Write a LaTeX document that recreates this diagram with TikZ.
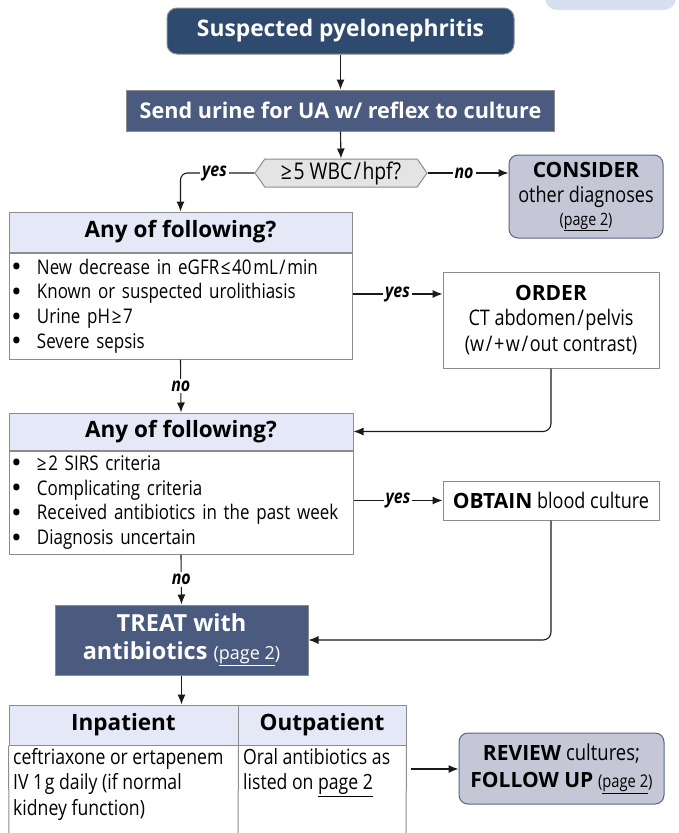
\documentclass[tikz,border=0pt]{standalone}
\usepackage{fontspec}
\setmainfont{Open Sans}
\newfontfamily\cond{Open Sans}[FakeStretch=0.84]
\usetikzlibrary{arrows.meta,shapes.symbols,calc}
\definecolor{navy}{HTML}{2E4A6F}
\definecolor{slate}{HTML}{4B5B80}
\definecolor{lav}{HTML}{C5C7D7}
\definecolor{lavborder}{HTML}{556685}
\definecolor{hdrfill}{HTML}{E5E8F6}
\definecolor{hexfill}{HTML}{E4E4E4}
\definecolor{bordergray}{HTML}{8C8C8C}
\definecolor{topshape}{HTML}{D7E0F0}
\definecolor{linecol}{HTML}{1A1A1A}
\newcommand{\hs}{\hspace{1.6pt}}
\newcommand{\bw}[1]{{\normalfont\bfseries\fontsize{21}{24}\selectfont #1}}
\tikzset{
  darkbox/.style={draw=bordergray, line width=1pt, text=white, align=center, inner sep=0pt},
  hdrbox/.style={draw=bordergray, line width=1pt, fill=hdrfill, inner sep=0pt, font=\bfseries\fontsize{22.5}{26}\selectfont},
  bodybox/.style={draw=bordergray, line width=1pt, fill=white, inner sep=0pt, align=left},
  plainbox/.style={draw=bordergray, line width=1pt, fill=white, inner sep=0pt, align=center, font=\cond\fontsize{21.5}{25.5}\selectfont},
  lavbox/.style={draw=lavborder, line width=1pt, fill=lav, rounded corners=9pt, inner sep=0pt, align=center, font=\cond\fontsize{21.5}{25}\selectfont},
  arr/.style={draw=linecol, line width=1.1pt, -{Latex[length=10pt,width=8pt]}},
  lbl/.style={fill=white, inner sep=2pt, font=\cond\bfseries\itshape\fontsize{19}{20}\selectfont},
  tcell/.style={anchor=north west, inner sep=0pt, align=left, font=\cond\fontsize{21}{25.5}\selectfont},
}
\newcommand{\bul}{\makebox[28pt][l]{\hspace{3.5pt}\raisebox{-0.5pt}{\normalfont\bfseries\fontsize{22}{0}\selectfont•}}}
\begin{document}
\begin{tikzpicture}[x=1pt,y=-1pt]
\useasboundingbox (0,0) rectangle (678,833);
\begin{scope}
\clip (0,0) rectangle (678,833);
\fill[topshape, rounded corners=12pt] (545,-30) rectangle (676,10);
\end{scope}

\node[darkbox, fill=navy, rounded corners=10pt, minimum width=347pt, minimum height=46pt,
  font=\bfseries\fontsize{22.8}{26}\selectfont] (top) at (340.5,31) {Suspected pyelonephritis};

\node[darkbox, fill=slate, minimum width=428pt, minimum height=41pt,
  font=\bfseries\fontsize{21.6}{25}\selectfont] (send) at (340.5,110.5) {Send urine for UA w/ reflex to culture};

\node[signal, signal to=west and east, signal pointer angle=110, draw=bordergray, line width=1pt,
  fill=hexfill, minimum width=172pt, minimum height=28pt, inner sep=0pt,
  font=\cond\fontsize{23}{26}\selectfont] (hex) at (341,173) {≥\hs5 WBC\hs/\hs hpf?};

\node[lavbox, minimum width=154pt, minimum height=83pt] (consider) at (586,196.5)
  {\bw{CONSIDER}\\ other diagnoses\\[-2pt] {\fontsize{17}{20}\selectfont(\underline{page 2})}};

\node[hdrbox, minimum width=343pt, minimum height=40pt] (box1h) at (180.5,232) {Any of following?};
\node[bodybox, minimum width=343pt, minimum height=106pt, anchor=north, text width=343pt,
  font=\cond\fontsize{20.2}{24.7}\selectfont] (box1b) at (box1h.south)
  {\bul New decrease in eGFR\hs≤\hs40\hs mL\hs/\hs min\\ \bul Known or suspected urolithiasis\\ \bul Urine pH\hs≥\hs7\\ \bul Severe sepsis};

\node[plainbox, minimum width=216pt, minimum height=96pt] (order) at (551,320)
  {\bw{ORDER}\\ CT abdomen\hs/\hs pelvis\\ (w\hs/\hs+\hs w\hs/\hs out contrast)};

\node[hdrbox, minimum width=344pt, minimum height=37pt] (box2h) at (181,431.5) {Any of following?};
\node[bodybox, minimum width=344pt, minimum height=103pt, anchor=north, text width=344pt,
  font=\cond\fontsize{20.2}{24.7}\selectfont] (box2b) at (box2h.south)
  {\bul ≥\hs2 SIRS criteria\\ \bul Complicating criteria\\ \bul Received antibiotics in the past week\\ \bul Diagnosis uncertain};

\node[plainbox, minimum width=216pt, minimum height=39pt] (obtain) at (551,500.5)
  {\bw{OBTAIN} blood culture};

\node[darkbox, fill=slate, minimum width=253pt, minimum height=70pt,
  font=\bfseries\fontsize{23.5}{28}\selectfont] (treat) at (181.5,640)
  {TREAT with\\ antibiotics {\mdseries\fontsize{18}{20}\selectfont(\underline{page 2})}};

\node[hdrbox, minimum width=229pt, minimum height=40pt] (inpat) at (123.5,725) {Inpatient};
\node[hdrbox, minimum width=168pt, minimum height=40pt] (outpat) at (322,725) {Outpatient};
\draw[bordergray, line width=1pt] (inpat.south west) -- (9,834);
\draw[bordergray, line width=1pt] (inpat.south east) -- (238,834);
\draw[bordergray, line width=1pt] (outpat.south east) -- (406,834);
\node[tcell] (incell) at (13,748) {ceftriaxone or ertapenem\\ IV 1\hs g daily (if normal\\ kidney function)};
\node[tcell] (outcell) at (243,748) {Oral antibiotics as\\ listed on \underline{page 2}};

\node[lavbox, minimum width=205pt, minimum height=71pt, font=\cond\fontsize{22}{27}\selectfont] (review) at (561.5,768.5)
  {\bw{REVIEW} cultures;\\ \bw{FOLLOW UP} {\fontsize{17.5}{20}\selectfont(\underline{page 2})}};

% connectors
\draw[arr] (top.south) -- (send.north);
\draw[arr] (send.south) -- (hex.north);
\draw[arr, rounded corners=7pt] (hex.west) -| (box1h.north) node[lbl, pos=0.27] {yes};
\draw[arr] (hex.east) -- (consider.west |- hex.east) node[lbl, pos=0.45] {no};
\draw[arr] (box1b.east |- 0,294) -- (order.west |- 0,294) node[lbl, midway] {yes};
\draw[arr, rounded corners=8pt] (order.south) |- (box2h.east);
\draw[arr] (box1b.south) -- (box2h.north) node[lbl, midway] {no};
\draw[arr] (box2b.east |- obtain.west) -- (obtain.west) node[lbl, midway] {yes};
\draw[arr, rounded corners=8pt] (obtain.south) |- (treat.east);
\draw[arr] (box2b.south) -- (treat.north) node[lbl, midway] {no};
\draw[arr] (treat.south) -- (treat.south |- inpat.north);
\coordinate (revstart) at (411,769);
\draw[arr] (revstart) -- (review.west |- revstart);
\end{tikzpicture}
\end{document}
